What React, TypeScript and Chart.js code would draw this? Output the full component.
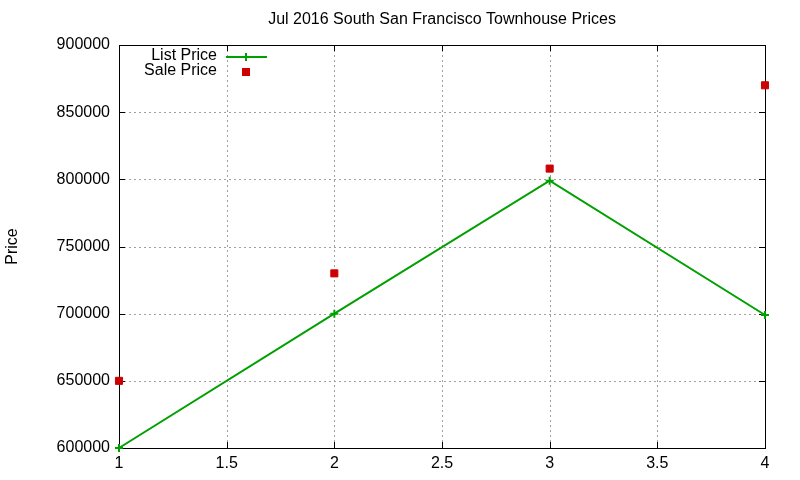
import React, { useEffect, useRef } from "react";
import { Chart, registerables } from "chart.js";

Chart.register(...registerables);

const chartTitle = "Jul 2016 South San Francisco Townhouse Prices";
const yTitle = "Price";
const xValues = [1, 2, 3, 4];
const listPrice = [600000, 700000, 799000, 699000];
const salePrice = [650000, 730000, 808000, 870000];
const seriesNames = ["List Price", "Sale Price"];
const GREEN = "#00a000";
const RED = "#cc0000";
const FONT = "'Liberation Sans', Arial, sans-serif";

const framePlugin = {
  id: "frame",
  beforeDatasetsDraw(chart: any) {
    const { ctx, chartArea: a, scales } = chart;
    const xs = scales.x, ys = scales.y;
    ctx.save();
    ctx.strokeStyle = "#a0a0a0";
    ctx.lineWidth = 1;
    ctx.setLineDash([2, 3]);
    xs.ticks.forEach((t: any) => {
      const px = Math.round(xs.getPixelForValue(t.value)) + 0.5;
      ctx.beginPath();
      ctx.moveTo(px, a.top);
      ctx.lineTo(px, a.bottom);
      ctx.stroke();
    });
    ys.ticks.forEach((t: any) => {
      const py = Math.round(ys.getPixelForValue(t.value)) + 0.5;
      ctx.beginPath();
      ctx.moveTo(a.left, py);
      ctx.lineTo(a.right, py);
      ctx.stroke();
    });
    ctx.setLineDash([]);
    ctx.strokeStyle = "#000";
    const tl = 6;
    xs.ticks.forEach((t: any) => {
      const px = Math.round(xs.getPixelForValue(t.value)) + 0.5;
      ctx.beginPath();
      ctx.moveTo(px, a.bottom);
      ctx.lineTo(px, a.bottom - tl);
      ctx.moveTo(px, a.top);
      ctx.lineTo(px, a.top + tl);
      ctx.stroke();
    });
    ys.ticks.forEach((t: any) => {
      const py = Math.round(ys.getPixelForValue(t.value)) + 0.5;
      ctx.beginPath();
      ctx.moveTo(a.left, py);
      ctx.lineTo(a.left + tl, py);
      ctx.moveTo(a.right, py);
      ctx.lineTo(a.right - tl, py);
      ctx.stroke();
    });
    ctx.strokeRect(
      Math.round(a.left) + 0.5,
      Math.round(a.top) + 0.5,
      Math.round(a.right - a.left),
      Math.round(a.bottom - a.top)
    );
    ctx.restore();
  },
  afterDraw(chart: any) {
    const { ctx, chartArea: a } = chart;
    ctx.save();
    ctx.fillStyle = "#000";
    ctx.font = `16px ${FONT}`;
    ctx.textAlign = "center";
    ctx.textBaseline = "middle";
    ctx.fillText(chartTitle, (a.left + a.right) / 2, 20);
    ctx.save();
    ctx.translate(13, (a.top + a.bottom) / 2);
    ctx.rotate(-Math.PI / 2);
    ctx.fillText(yTitle, 0, 0);
    ctx.restore();
    ctx.textAlign = "right";
    const tx = 217;
    const y1 = 57, y2 = 72;
    ctx.fillText(chart.data.datasets[0].label, tx, y1 - 1);
    ctx.fillText(chart.data.datasets[1].label, tx, y2 - 1);
    ctx.strokeStyle = GREEN;
    ctx.lineWidth = 2;
    ctx.beginPath();
    ctx.moveTo(226, y1);
    ctx.lineTo(267, y1);
    ctx.moveTo(246, y1 - 4);
    ctx.lineTo(246, y1 + 4);
    ctx.stroke();
    ctx.fillStyle = RED;
    ctx.fillRect(242, y2 - 4, 8, 8);
    ctx.restore();
  },
};

export default function App() {
  const ref = useRef<HTMLCanvasElement>(null);
  useEffect(() => {
    document.body.style.margin = "0";
    Chart.defaults.font.family = FONT;
    Chart.defaults.font.size = 16;
    Chart.defaults.color = "#000";
    const chart = new Chart(ref.current!, {
      type: "line",
      data: {
        datasets: [
          {
            label: seriesNames[0],
            data: xValues.map((x, i) => ({ x, y: listPrice[i] })),
            borderColor: GREEN,
            backgroundColor: GREEN,
            borderWidth: 2,
            pointStyle: "cross",
            pointRadius: 4,
            pointBorderWidth: 2,
            pointBorderColor: GREEN,
            clip: false as any,
          },
          {
            label: seriesNames[1],
            data: xValues.map((x, i) => ({ x, y: salePrice[i] })),
            showLine: false,
            borderColor: RED,
            backgroundColor: RED,
            pointStyle: "rect",
            pointRadius: 5,
            pointBorderWidth: 1,
            pointBorderColor: RED,
            clip: false as any,
          },
        ],
      },
      options: {
        responsive: false,
        animation: false,
        layout: { padding: { left: 0, top: 45, right: 35, bottom: 0 } },
        plugins: { legend: { display: false }, title: { display: false }, tooltip: { enabled: false } },
        scales: {
          x: {
            type: "linear",
            min: 1,
            max: 4,
            grid: { display: false, drawTicks: false },
            border: { display: false },
            ticks: { stepSize: 0.5, padding: 6, maxRotation: 0, autoSkip: false, callback: (v: any) => String(v) },
            afterFit: (s: any) => { s.height = 32; },
          },
          y: {
            type: "linear",
            min: 600000,
            max: 900000,
            grid: { display: false, drawTicks: false },
            border: { display: false },
            ticks: { stepSize: 50000, padding: 9, callback: (v: any) => String(v) },
            afterFit: (s: any) => { s.width = 119; },
          },
        },
      },
      plugins: [framePlugin],
    });
    return () => chart.destroy();
  }, []);
  return (
    <div style={{ width: 800, height: 480 }}>
      <canvas ref={ref} width={800} height={480} style={{ display: "block" }} />
    </div>
  );
}
